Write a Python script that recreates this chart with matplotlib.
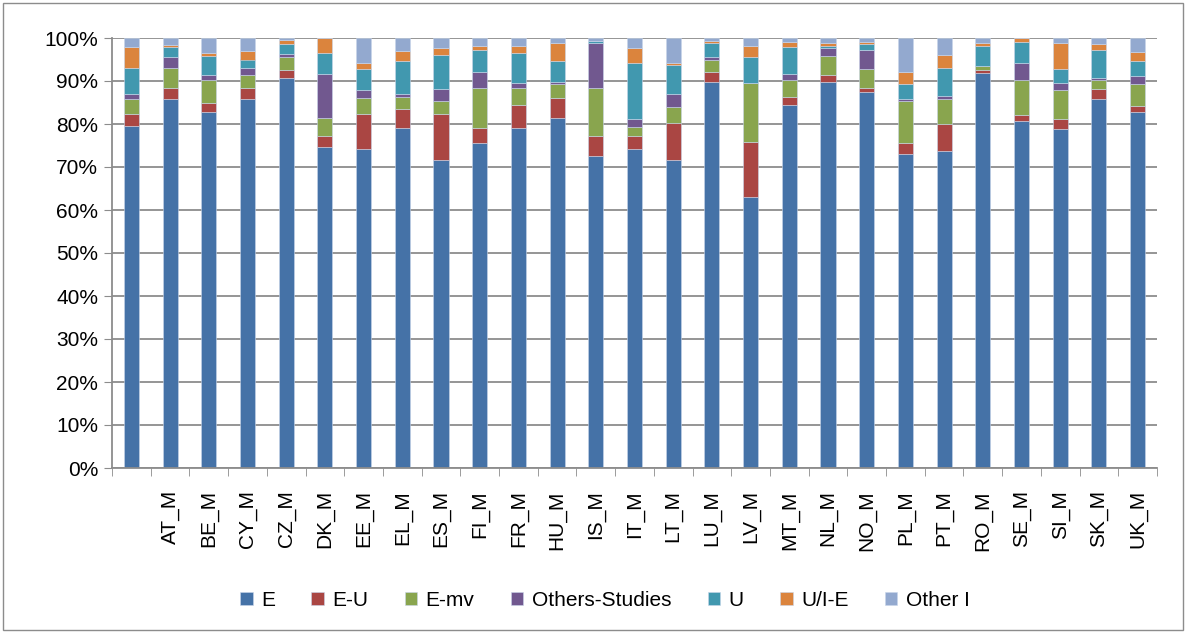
import matplotlib
matplotlib.use("Agg")
import matplotlib.pyplot as plt
import numpy as np
from matplotlib.patches import Rectangle
from matplotlib.ticker import FixedLocator

plt.rcParams["font.family"] = ["Liberation Sans", "DejaVu Sans"]

countries = ["", "AT_M", "BE_M", "CY_M", "CZ_M", "DK_M", "EE_M", "EL_M", "ES_M",
             "FI_M", "FR_M", "HU_M", "IS_M", "IT_M", "LT_M", "LU_M", "LV_M", "MT_M",
             "NL_M", "NO_M", "PL_M", "PT_M", "RO_M", "SE_M", "SI_M", "SK_M", "UK_M"]

e = [79.5, 85.7, 82.7, 85.7, 90.7, 74.6, 74.3, 79.1, 71.7, 75.5, 79.1, 81.5, 72.6, 74.3,
     71.7, 89.8, 63.0, 84.5, 89.8, 87.4, 73.1, 73.7, 91.9, 80.6, 78.8, 85.7, 82.7]
e_u = [2.9, 2.7, 2.1, 2.7, 1.9, 2.7, 8.1, 4.5, 10.7, 3.6, 5.4, 4.5, 4.7, 3.0,
       8.6, 2.4, 12.9, 1.8, 1.5, 1.0, 2.4, 6.3, 0.7, 1.5, 2.4, 2.4, 1.5]
e_mv = [3.3, 4.7, 5.5, 2.9, 2.9, 4.2, 3.6, 2.7, 2.9, 9.3, 3.9, 3.2, 11.1, 2.1,
        3.6, 2.7, 13.6, 3.9, 4.5, 4.5, 9.8, 5.7, 0.8, 8.1, 6.6, 2.1, 5.0]
others_studies = [1.2, 2.4, 1.0, 1.8, 0.7, 10.1, 1.8, 0.6, 2.8, 3.8, 1.1, 0.6, 10.4, 1.8,
                  3.0, 0.6, 0.0, 1.4, 1.8, 4.4, 0.4, 0.9, 0.0, 4.1, 1.7, 0.6, 1.9]
u = [6.2, 2.4, 4.5, 1.9, 2.3, 4.8, 5.0, 7.7, 8.0, 5.1, 6.9, 4.8, 0.4, 13.1,
     6.8, 3.3, 6.0, 6.3, 0.6, 1.2, 3.5, 6.5, 4.8, 4.8, 3.3, 6.5, 3.5]
u_ie = [4.8, 0.4, 0.6, 2.0, 1.0, 3.6, 1.5, 2.4, 1.5, 0.9, 1.8, 4.2, 0.0, 3.3,
        0.6, 0.6, 2.7, 1.2, 0.6, 0.6, 3.0, 3.0, 0.6, 0.9, 6.0, 1.2, 2.1]
other_i = [2.1, 1.7, 3.6, 3.0, 0.5, 0.0, 5.7, 3.0, 2.4, 1.8, 1.8, 1.2, 0.8, 2.4,
           5.7, 0.6, 1.8, 0.9, 1.2, 0.9, 7.8, 3.9, 1.2, 0.0, 1.2, 1.5, 3.3]

y_ticks = list(range(0, 101, 10))

series = [
    ("E", e, "#4572A7"),
    ("E-U", e_u, "#AA4643"),
    ("E-mv", e_mv, "#89A54E"),
    ("Others-Studies", others_studies, "#71588F"),
    ("U", u, "#4198AF"),
    ("U/I-E", u_ie, "#DB843D"),
    ("Other I", other_i, "#93A9CF"),
]

data = np.array([s[1] for s in series], dtype=float)
data = data / data.sum(axis=0) * 100.0

fig = plt.figure(figsize=(11.86, 6.33), dpi=100)
ax = fig.add_axes([112 / 1186, 1 - 468 / 633, (1157 - 112) / 1186, (468 - 38) / 633])

x = np.arange(len(countries))
bottom = np.zeros(len(countries))
for (name, _, color), vals in zip(series, data):
    ax.bar(x, vals, 0.39, bottom=bottom, color=color, label=name,
           edgecolor="#c9d6ea", linewidth=0.4)
    bottom += vals

ax.set_xlim(-0.5, len(countries) - 0.5)
ax.set_ylim(0, 100)
ax.set_yticks(y_ticks)
ax.set_yticklabels([f"{v}%" for v in y_ticks], fontsize=15)
ax.grid(axis="y", color="#8c8c8c", linewidth=1.3)
ax.set_axisbelow(True)

ax.set_xticks(x)
ax.set_xticklabels(countries, rotation=90, fontsize=15)
ax.tick_params(axis="x", which="major", length=0, pad=16)
ax.xaxis.set_minor_locator(FixedLocator(np.arange(-0.5, len(countries), 1.0)))
ax.tick_params(axis="x", which="minor", length=6, color="#8c8c8c", direction="out")
ax.tick_params(axis="y", length=6, color="#8c8c8c", direction="out", pad=4)

for side in ("top", "right"):
    ax.spines[side].set_visible(False)
for side in ("left", "bottom"):
    ax.spines[side].set_color("#8c8c8c")
    ax.spines[side].set_linewidth(1.3)

fig.legend(loc="center", bbox_to_anchor=(0.51, 1 - 600 / 633), ncol=7, frameon=False,
           fontsize=15, handlelength=0.6, handleheight=0.6, handletextpad=0.4,
           columnspacing=1.75)

fig.patches.append(Rectangle((3 / 1186, 3 / 633), 1180 / 1186, 627 / 633,
                             transform=fig.transFigure, fill=False,
                             edgecolor="#8c8c8c", linewidth=1.0))

fig.savefig("out.png", dpi=100)
